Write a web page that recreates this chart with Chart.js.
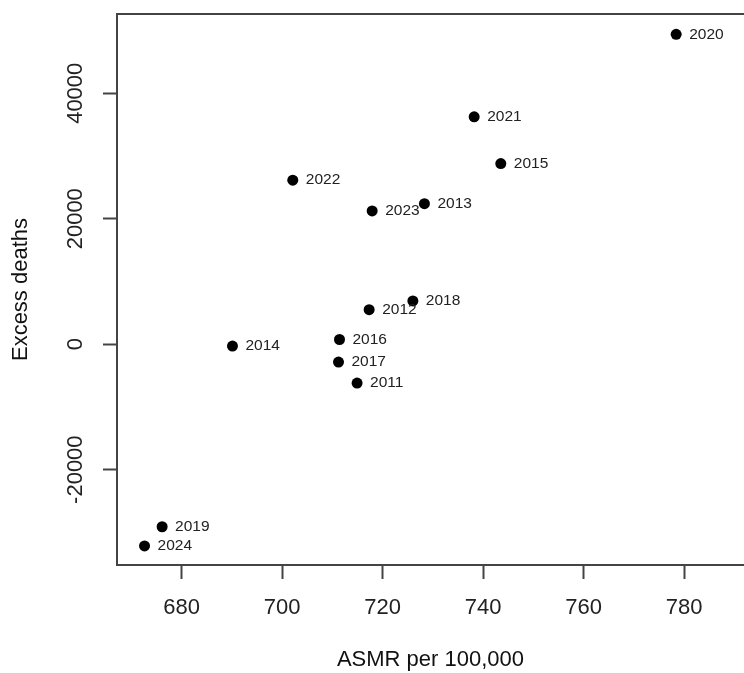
<!DOCTYPE html>
<html>
<head>
<meta charset="utf-8">
<script src="https://cdn.jsdelivr.net/npm/chart.js@4/dist/chart.umd.min.js"></script>
<style>
  html, body { margin: 0; padding: 0; background: #fff; overflow: hidden; }
  #wrap { width: 744px; height: 673px; position: relative; }
</style>
</head>
<body>
<div id="wrap"><canvas id="c" width="744" height="673"></canvas></div>
<script>
// ---- data ----
const years  = ['2011','2012','2013','2014','2015','2016','2017','2018','2019','2020','2021','2022','2023','2024'];
const asmr   = [714.9, 717.3, 728.3, 690.1, 743.5, 711.4, 711.2, 726.0, 676.1, 778.4, 738.2, 702.1, 717.9, 672.6];
const excess = [-6200, 5500, 22400, -300, 28800, 750, -2850, 6900, -29100, 49400, 36250, 26150, 21250, -32150];
const xTicks = [680, 700, 720, 740, 760, 780];
const yTicks = [-20000, 0, 20000, 40000];
const xTitle = 'ASMR per 100,000';
const yTitle = 'Excess deaths';

const FONT = "'Liberation Sans', Arial, Helvetica, sans-serif";
const AXIS = '#444';

const points = asmr.map((x, i) => ({ x: x, y: excess[i] }));

const labelPlugin = {
  id: 'pointLabels',
  afterDatasetsDraw(chart) {
    const ctx = chart.ctx;
    const meta = chart.getDatasetMeta(0);
    ctx.save();
    ctx.font = '15.5px ' + FONT;
    ctx.fillStyle = '#222';
    ctx.textAlign = 'left';
    ctx.textBaseline = 'middle';
    meta.data.forEach((el, i) => {
      ctx.fillText(years[i], el.x + 13, el.y);
    });
    ctx.restore();
  }
};

new Chart(document.getElementById('c'), {
  type: 'scatter',
  data: {
    datasets: [{
      data: points,
      pointRadius: 5.5,
      pointHoverRadius: 5.5,
      pointBackgroundColor: '#000',
      pointBorderWidth: 0,
      showLine: false
    }]
  },
  options: {
    responsive: false,
    animation: false,
    events: [],
    layout: { autoPadding: false, padding: { top: 14, left: 0, right: 0, bottom: 0 } },
    plugins: { legend: { display: false }, tooltip: { enabled: false } },
    scales: {
      x: {
        type: 'linear',
        position: 'bottom',
        min: 667.12,
        max: 791.9,
        afterBuildTicks: s => { s.ticks = xTicks.map(v => ({ value: v })); },
        afterFit: s => { s.height = 108; },
        grid: { display: true, drawOnChartArea: false, drawTicks: true, tickLength: 14, tickColor: AXIS, tickWidth: 2 },
        border: { display: true, color: AXIS, width: 2 },
        ticks: {
          padding: 16,
          color: '#222',
          font: { family: FONT, size: 22 },
          maxRotation: 0,
          callback: v => String(v)
        },
        title: {
          display: true,
          text: xTitle,
          color: '#111',
          font: { family: FONT, size: 22, lineHeight: 1 },
          padding: { top: 0, bottom: 2 }
        }
      },
      xTop: {
        type: 'linear',
        position: 'top',
        min: 667.12,
        max: 791.9,
        afterFit: s => { s.height = 0; },
        grid: { display: false, drawTicks: false },
        border: { display: true, color: AXIS, width: 2 },
        ticks: { display: false }
      },
      y: {
        type: 'linear',
        position: 'left',
        min: -35196,
        max: 52634,
        afterBuildTicks: s => { s.ticks = yTicks.map(v => ({ value: v })); },
        afterFit: s => { s.width = 117; },
        grid: { display: true, drawOnChartArea: false, drawTicks: true, tickLength: 14, tickColor: AXIS, tickWidth: 2 },
        border: { display: true, color: AXIS, width: 2 },
        ticks: {
          padding: -6.75,
          crossAlign: 'center',
          minRotation: 90,
          maxRotation: 90,
          color: '#222',
          font: { family: FONT, size: 22 },
          callback: v => String(v)
        },
        title: {
          display: true,
          text: yTitle,
          color: '#111',
          font: { family: FONT, size: 22, lineHeight: 1 },
          padding: { top: 10, bottom: 0 }
        }
      }
    }
  },
  plugins: [labelPlugin]
});
</script>
</body>
</html>
